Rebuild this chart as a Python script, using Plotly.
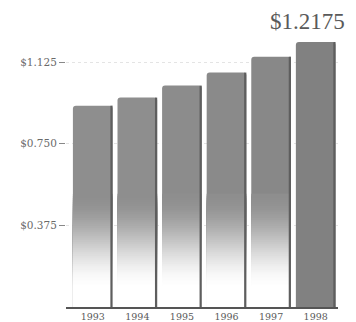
import plotly.graph_objects as go

years = ["1993", "1994", "1995", "1996", "1997", "1998"]
values = [0.925, 0.962, 1.017, 1.077, 1.150, 1.2175]
bar_colors = ["#8e8e8e", "#8e8e8e", "#8c8c8c", "#8a8a8a", "#888888", "#818181"]
tick_vals = [0.375, 0.750, 1.125]
tick_text = ["$0.375", "$0.750", "$1.125"]
highlight_label = "$1.2175"
fade_years = years[:5]

BAR_W = 0.89
fig = go.Figure()

# main bars
fig.add_trace(go.Bar(x=years, y=values, width=BAR_W,
                     marker=dict(color=bar_colors, line=dict(width=0), cornerradius=3),
                     hoverinfo="skip", showlegend=False))

# gradient fade at the bottom of the first five bars (white -> gray)
n = 48
lo, hi = 0.08, 0.52


def mix(t):
    s = t * t * (3 - 2 * t)
    g0, g1 = 255, 142
    v = int(round(g0 + (g1 - g0) * s))
    return f"rgb({v},{v},{v})"


d = (hi - lo) / n
for k in range(n - 1, -1, -1):
    t = (k + 0.5) / n
    top = lo + (k + 1) * d
    fig.add_trace(go.Bar(x=fade_years, y=[top] * len(fade_years),
                         base=[0] * len(fade_years), width=BAR_W,
                         marker=dict(color=mix(t), line=dict(width=0)),
                         hoverinfo="skip", showlegend=False))
fig.add_trace(go.Bar(x=fade_years, y=[lo] * len(fade_years), base=[0] * len(fade_years),
                     width=BAR_W, marker=dict(color="white", line=dict(width=0)),
                     hoverinfo="skip", showlegend=False))

# dark right-edge line of each bar
fig.add_trace(go.Bar(x=years, y=values, width=0.05, offset=BAR_W / 2 - 0.05,
                     marker=dict(color="#5e5e5e", line=dict(width=0)),
                     hoverinfo="skip", showlegend=False))

fig.add_annotation(x=len(values) - 1, y=values[-1], text=highlight_label, showarrow=False,
                   yanchor="bottom", yshift=6, xshift=-8,
                   font=dict(family="Liberation Serif", size=23, color="#5a5a5a"))

fig.update_layout(
    barmode="overlay",
    width=348, height=314,
    margin=dict(l=58, r=18, t=16, b=15),
    plot_bgcolor="white", paper_bgcolor="white",
    font=dict(family="DejaVu Serif", size=10, color="#666666"),
    xaxis=dict(type="category", range=[-0.6, 5.5], showgrid=False, ticks="",
               showline=True, linecolor="#555555", linewidth=2,
               tickfont=dict(family="DejaVu Serif", size=9.5, color="#5a5a5a"),
               automargin=False),
    yaxis=dict(range=[0, 1.3], tickvals=tick_vals, ticktext=tick_text,
               showgrid=True, gridcolor="#e4e4e4", gridwidth=1, griddash="dot",
               zeroline=False, ticks="outside", ticklen=6, tickcolor="#888888",
               showline=False,
               tickfont=dict(family="DejaVu Serif", size=10.5, color="#6a6a6a"),
               automargin=False),
)

fig.write_html("out.html")
